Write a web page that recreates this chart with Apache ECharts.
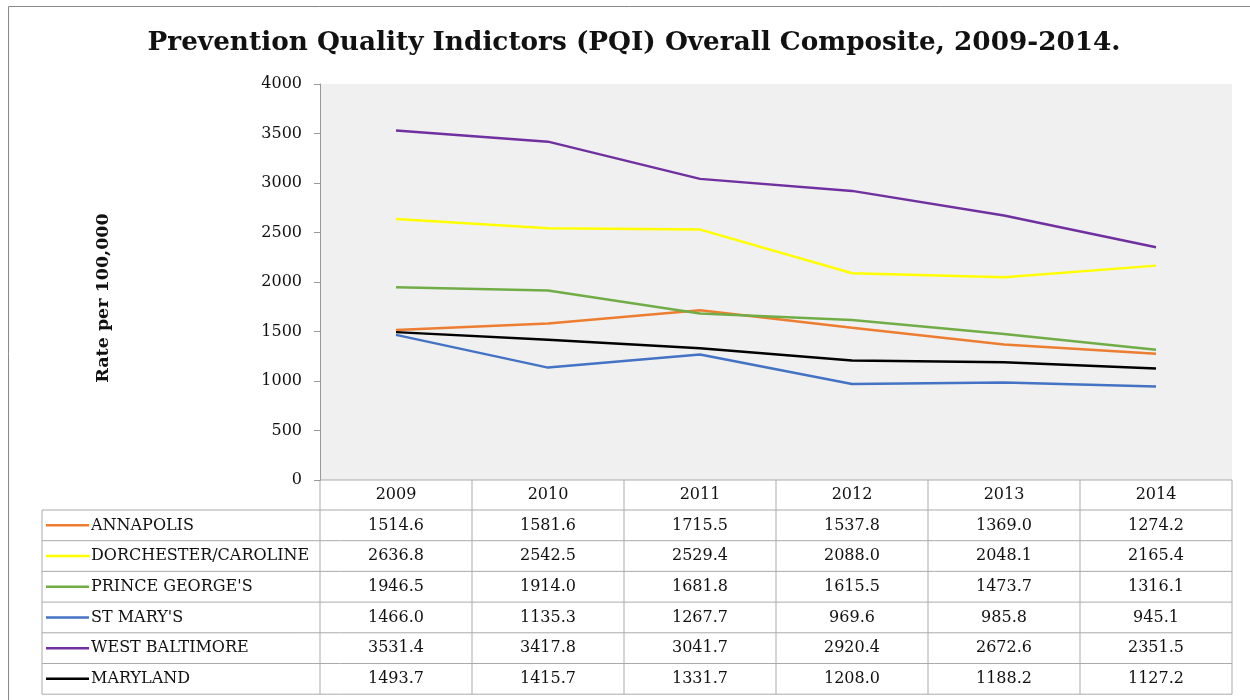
<!DOCTYPE html>
<html>
<head>
<meta charset="utf-8">
<title>PQI Overall Composite</title>
<script src="https://cdn.jsdelivr.net/npm/echarts@6/dist/echarts.min.js"></script>
<style>
  html, body { margin: 0; padding: 0; background: #fff; }
  #main { width: 1250px; height: 700px; }
</style>
</head>
<body>
<div id="main"></div>
<script>
var years = ['2009', '2010', '2011', '2012', '2013', '2014'];
var annapolis = [1514.6, 1581.6, 1715.5, 1537.8, 1369.0, 1274.2];
var dorchester = [2636.8, 2542.5, 2529.4, 2088.0, 2048.1, 2165.4];
var princeGeorges = [1946.5, 1914.0, 1681.8, 1615.5, 1473.7, 1316.1];
var stMarys = [1466.0, 1135.3, 1267.7, 969.6, 985.8, 945.1];
var westBaltimore = [3531.4, 3417.8, 3041.7, 2920.4, 2672.6, 2351.5];
var maryland = [1493.7, 1415.7, 1331.7, 1208.0, 1188.2, 1127.2];
var names = ['ANNAPOLIS', 'DORCHESTER/CAROLINE', "PRINCE GEORGE'S", "ST MARY'S", 'WEST BALTIMORE', 'MARYLAND'];

var values = [annapolis, dorchester, princeGeorges, stMarys, westBaltimore, maryland];
var colors = ['#ED7D31', '#FFFF00', '#70AD47', '#4472C4', '#7030A0', '#000000'];
var font = 'DejaVu Serif';

var myChart = echarts.init(document.getElementById('main'));

var series = [];
for (var i = 0; i < names.length; i++) {
  series.push({
    name: names[i],
    type: 'line',
    data: values[i],
    symbol: 'none',
    lineStyle: { color: colors[i], width: 2.5 },
    itemStyle: { color: colors[i] },
    animation: false
  });
}

var option = {
  backgroundColor: '#fff',
  animation: false,
  title: {
    text: 'Prevention Quality Indictors (PQI) Overall Composite, 2009-2014.',
    left: 629,
    top: 25,
    textAlign: 'center',
    textStyle: { fontFamily: font, fontWeight: 'bold', fontSize: 26.3, color: '#111' }
  },
  grid: {
    left: 320, right: 18, top: 84, bottom: 220,
    show: true, backgroundColor: '#f0f0f0', borderWidth: 0
  },
  xAxis: {
    type: 'category',
    data: years,
    boundaryGap: true,
    axisLine: { show: false },
    axisTick: { show: false },
    axisLabel: { show: false }
  },
  yAxis: {
    type: 'value',
    min: 0, max: 4000, interval: 500,
    axisLine: { show: true, lineStyle: { color: '#999' } },
    axisTick: { show: true, length: 6, lineStyle: { color: '#999' } },
    splitLine: { show: false },
    axisLabel: {
      fontFamily: font, fontSize: 16, color: '#111', margin: 18,
      formatter: function (v) { return String(v); }
    }
  },
  series: series
};
myChart.setOption(option);

// data table under the plot, laid out from the axis scale
function buildTable() {
  var g = [];
  var x0 = myChart.convertToPixel({ xAxisIndex: 0 }, years[0]);
  var x1 = myChart.convertToPixel({ xAxisIndex: 0 }, years[1]);
  var colW = x1 - x0;
  var left = x0 - colW / 2;
  var right = left + colW * years.length;
  var top = myChart.convertToPixel({ yAxisIndex: 0 }, 0);
  var headH = 30;
  var rowH = 30.7;
  var labelLeft = 42;
  var bottom = top + headH + rowH * names.length;
  var line = { stroke: '#aaa', lineWidth: 1 };
  var txt = '16px "' + font + '"';

  // outer frame of the figure
  g.push({ type: 'rect', shape: { x: 8.5, y: 6.5, width: 1260, height: 720 }, style: { fill: 'none', stroke: '#888', lineWidth: 1 } });

  // horizontal lines
  g.push({ type: 'line', shape: { x1: left, y1: top, x2: right, y2: top }, style: line });
  for (var r = 0; r <= names.length; r++) {
    var y = top + headH + rowH * r;
    g.push({ type: 'line', shape: { x1: labelLeft, y1: y, x2: right, y2: y }, style: line });
  }
  // vertical lines
  for (var c = 0; c <= years.length; c++) {
    var x = left + colW * c;
    g.push({ type: 'line', shape: { x1: x, y1: top, x2: x, y2: bottom }, style: line });
  }
  g.push({ type: 'line', shape: { x1: labelLeft, y1: top + headH, x2: labelLeft, y2: bottom }, style: line });

  // header
  for (var c = 0; c < years.length; c++) {
    g.push({
      type: 'text', x: left + colW * (c + 0.5), y: top + headH / 2,
      style: { text: years[c], font: txt, fill: '#111', align: 'center', verticalAlign: 'middle' }
    });
  }
  // rows
  for (var r = 0; r < names.length; r++) {
    var cy = top + headH + rowH * (r + 0.5);
    g.push({ type: 'line', shape: { x1: 46, y1: cy, x2: 89, y2: cy }, style: { stroke: colors[r], lineWidth: 2.5 } });
    g.push({
      type: 'text', x: 91, y: cy,
      style: { text: names[r], font: txt, fill: '#111', align: 'left', verticalAlign: 'middle' }
    });
    for (var c = 0; c < years.length; c++) {
      g.push({
        type: 'text', x: left + colW * (c + 0.5), y: cy,
        style: { text: values[r][c].toFixed(1), font: txt, fill: '#111', align: 'center', verticalAlign: 'middle' }
      });
    }
  }

  // y axis title
  g.push({
    type: 'text', x: 103, y: 298, rotation: Math.PI / 2,
    style: { text: 'Rate per 100,000', font: 'bold 17.5px "' + font + '"', fill: '#111', align: 'center', verticalAlign: 'middle' }
  });

  myChart.setOption({ graphic: g });
}
buildTable();
</script>
</body>
</html>
